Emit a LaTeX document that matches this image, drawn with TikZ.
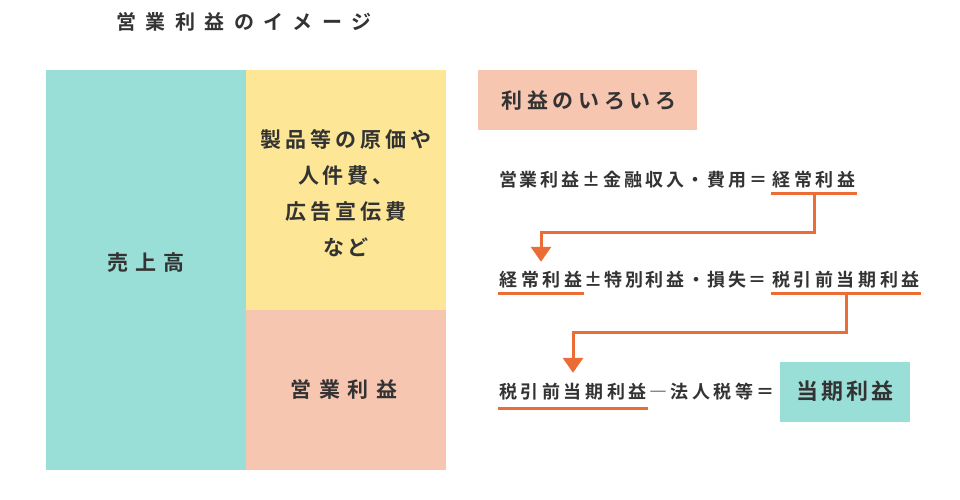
\documentclass[tikz,border=0pt]{standalone}
\usepackage{fontspec}
\setmainfont{Noto Sans CJK JP}[UprightFont=* Bold]
\usetikzlibrary{arrows.meta}
\definecolor{tealbox}{HTML}{9ADFD7}
\definecolor{yelbox}{HTML}{FDE796}
\definecolor{salbox}{HTML}{F7C6B0}
\definecolor{orangeline}{HTML}{EC6C35}
\definecolor{ink}{HTML}{333333}
\tikzset{
  plain/.style={inner sep=0pt, text=ink},
  fsize/.style n args={3}{font=\fontsize{#1pt}{#2pt}\selectfont\addfontfeature{LetterSpace=#3}},
  linetxt/.style={plain, fsize={18}{21}{16}, text height=15pt, text depth=1.5pt},
  panel/.style={inner sep=0pt, draw=none},
  ul/.style={draw=orangeline, line width=3pt},
  conn/.style={draw=orangeline, line width=3pt, -{Triangle[width=20pt,length=15pt]}},
}
\begin{document}
\begin{tikzpicture}[x=1pt,y=-1pt]
\useasboundingbox (0,0) rectangle (960,500);
% title
\node[plain, fsize={20}{24}{47}] (title) at (244,22) {営業利益のイメージ};
% left diagram
\node[panel, fill=tealbox, minimum width=200pt, minimum height=400pt] (sales) at (146,270) {};
\node[panel, fill=yelbox, minimum width=200pt, minimum height=240pt] (costs) at (346,190) {};
\node[panel, fill=salbox, minimum width=200pt, minimum height=160pt] (oprof) at (346,390) {};
\node[plain, fsize={21}{24}{32}] (salesT) at (146,263) {売上高};
\node[plain, fsize={21}{36}{19}, align=center] (costsT) at (346,193) {製品等の原価や\\人件費、\\広告宣伝費\\など};
\node[plain, fsize={21}{24}{35}] (oprofT) at (344,390) {営業利益};
% right side
\node[panel, fill=salbox, minimum width=219pt, minimum height=60pt] (head) at (587.5,100) {};
\node[plain, fsize={21}{24}{22}] (headT) at (589,101) {利益のいろいろ};
% line 1
\node[linetxt, fsize={18}{21}{20}, minimum width=86pt, minimum height=26pt] (k1) at (814,180) {経常利益};
\node[linetxt, anchor=east] (l1) at ([xshift=-3pt]k1.west) {営業利益±金融収入・費用＝};
\draw[ul] (k1.south west) -- (k1.south east);
% line 2
\node[linetxt, fsize={18}{21}{20}, minimum width=86pt, minimum height=26pt] (k2) at (541,280) {経常利益};
\node[linetxt, fsize={18}{21}{20}, minimum width=150pt, minimum height=26pt] (z2) at (846,280) {税引前当期利益};
\node[linetxt, fsize={18}{21}{14}, anchor=east] (m2) at ([xshift=-4pt]z2.west) {±特別利益・損失＝};
\draw[ul] (k2.south west) -- (k2.south east);
\draw[ul] (z2.south west) -- (z2.south east);
% line 3
\node[linetxt, fsize={18}{21}{20}, minimum width=150pt, minimum height=32pt] (z3) at (573,392) {税引前当期利益};
\node[linetxt, fsize={18}{21}{19}, anchor=west] (m3) at ([xshift=1pt]z3.east) {―法人税等＝};
\draw[ul] (z3.south west) -- (z3.south east);
\node[panel, fill=tealbox, minimum width=130pt, minimum height=60pt] (net) at (845,392) {};
\node[plain, fsize={22}{24}{15}] (netT) at (845,391) {当期利益};
% connectors
\draw[conn] (k1.south) -- ++(0,39) -| ([yshift=5pt]k2.north);
\draw[conn] (z2.south) -- ++(0,39) -| ([yshift=3pt]z3.north);
\end{tikzpicture}
\end{document}
